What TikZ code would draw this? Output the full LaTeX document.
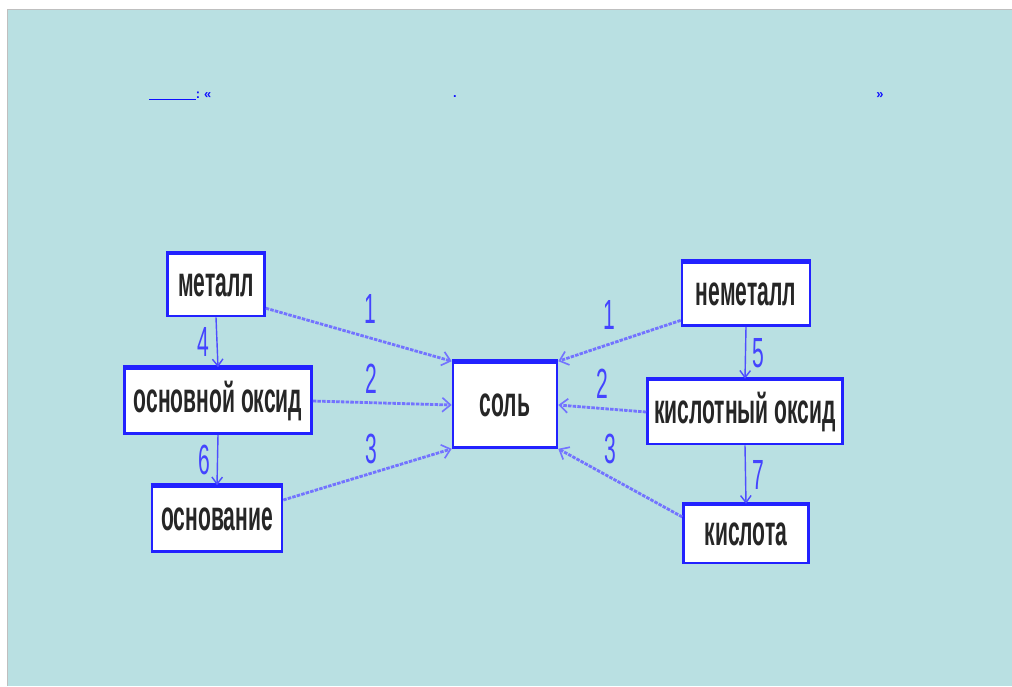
\documentclass[tikz,border=0pt]{standalone}
\usepackage{fontspec}
\setmainfont{Liberation Sans}
\newfontfamily\narrowfont[FakeStretch=0.5]{Liberation Sans}
\usepackage{xcolor}
\usetikzlibrary{arrows.meta}
\definecolor{panelcol}{HTML}{B9E0E2}
\definecolor{boxblue}{HTML}{2222FF}
\definecolor{linkblue}{HTML}{1010FF}
\definecolor{numblue}{HTML}{4444FF}

\begin{document}
\begin{tikzpicture}[x=0.3mm, y=-0.3mm,
  substance/.style={draw=boxblue, fill=white, line width=2.2pt, inner sep=0pt,
    text=black!85, font=\narrowfont\bfseries\fontsize{36}{36}\selectfont},
  num/.style={text=numblue, font=\narrowfont\fontsize{36}{36}\selectfont, inner sep=2pt},
  react/.style={draw=blue!55, line width=2.4pt, dash pattern=on 3pt off 1pt,
    -{Straight Barb[length=7pt,width=12pt,line width=1.4pt]}},
  chain/.style={draw=boxblue!80, line width=1.2pt,
    -{Straight Barb[length=6pt,width=9pt]}},
  hdr/.style={text=linkblue, font=\bfseries\fontsize{11}{11}\selectfont, inner sep=0pt}]
  \useasboundingbox (0,0) rectangle (1012,686);
  \fill[white] (0,0) rectangle (1012,686);
  \fill[panelcol] (7,9) rectangle (1012,686);
  \draw[black!25, line width=0.3pt] (7,686) -- (7,9) -- (1012,9);

  % header line
  \node[hdr, anchor=west] (head) at (149,96) {\underline{\hspace{14mm}}:\hspace{1.2mm}«};
  \node[hdr] (dot) at (455,97) {.};
  \node[hdr] (quote) at (880,96) {»};

  % substances
  \node[substance, minimum width=29.1mm, minimum height=18.6mm] (metal) at (216,285) {металл};
  \node[substance, minimum width=56.1mm, minimum height=19.5mm] (baseox) at (218,401) {основной оксид};
  \node[substance, minimum width=39mm, minimum height=19.5mm] (base) at (217,519) {основание};
  \node[substance, minimum width=31.2mm, minimum height=25.5mm] (salt) at (505,405) {соль};
  \node[substance, minimum width=38.4mm, minimum height=18.9mm] (nonmetal) at (746,294) {неметалл};
  \node[substance, minimum width=58.5mm, minimum height=19.2mm] (acidox) at (745,412) {кислотный оксид};
  \node[substance, minimum width=37.5mm, minimum height=17.4mm] (acid) at (746,534) {кислота};
  \foreach \n in {metal,baseox,base,salt,nonmetal,acidox,acid}
    \draw[boxblue, line width=3.6pt] (\n.north west) -- (\n.north east);

  % reactions to the salt
  \draw[react] (metal.-25) -- node[num, pos=0.56, above=9pt] {1} (salt.north west);
  \draw[react] (baseox.east) -- node[num, pos=0.42, above=5pt] {2} (salt.west);
  \draw[react] (base.16) -- node[num, pos=0.52, above=5pt] {3} (salt.south west);
  \draw[react] (nonmetal.202) -- node[num, pos=0.58, above=9pt] {1} (salt.north east);
  \draw[react] (acidox.west) -- node[num, pos=0.5, above=5pt] {2} (salt.east);
  \draw[react] (acid.165) -- node[num, pos=0.58, above=8pt] {3} (salt.south east);

  % genetic chains
  \draw[chain] (metal.south) -- node[num, left=4pt] {4} (baseox.north);
  \draw[chain] (baseox.south) -- node[num, left=4pt] {6} (base.north);
  \draw[chain] (nonmetal.south) -- node[num, right=3pt] {5} (acidox.north);
  \draw[chain] (acidox.south) -- node[num, right=3pt] {7} (acid.north);
\end{tikzpicture}
\end{document}
